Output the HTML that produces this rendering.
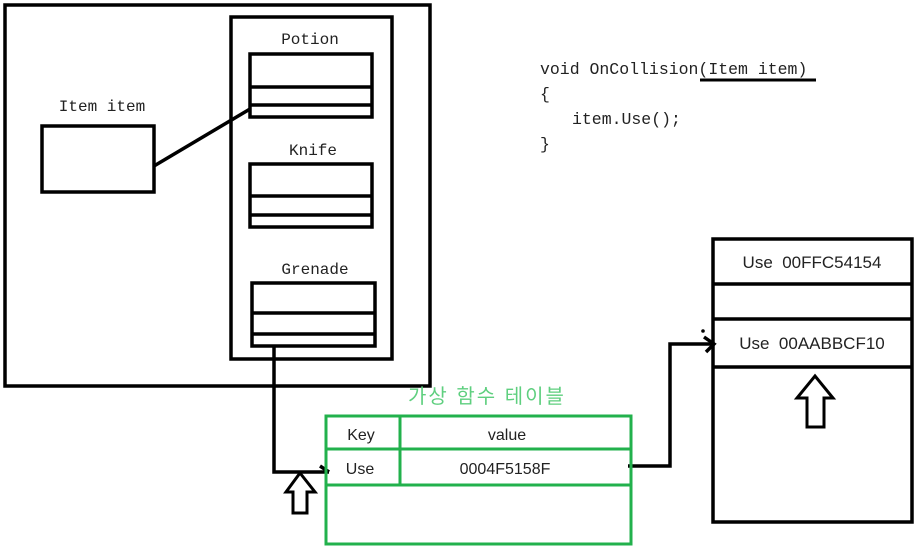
<!DOCTYPE html>
<html><head><meta charset="utf-8"><style>
html,body{margin:0;padding:0;background:#fff;}
svg{display:block;}
text{font-family:"Liberation Sans","Noto Sans CJK KR",sans-serif;fill:#222;}
.m{font-family:"Liberation Mono","Noto Sans CJK KR",monospace;}
</style></head><body>
<svg width="924" height="551" viewBox="0 0 924 551" xmlns="http://www.w3.org/2000/svg">
<g fill="none" stroke="#000" stroke-width="3.5">
<rect x="5" y="5" width="425" height="381"/>
<rect x="231" y="17" width="161" height="342"/>
<rect x="250" y="54" width="122" height="63"/>
<line x1="250" y1="87" x2="372" y2="87"/><line x1="250" y1="105" x2="372" y2="105"/>
<rect x="250" y="164" width="122" height="63"/>
<line x1="250" y1="196" x2="372" y2="196"/><line x1="250" y1="215" x2="372" y2="215"/>
<rect x="252" y="283" width="123" height="63"/>
<line x1="252" y1="313" x2="375" y2="313"/><line x1="252" y1="334" x2="375" y2="334"/>
<rect x="42" y="126" width="112" height="66"/>
<line x1="154" y1="166" x2="250" y2="109"/>
<polyline points="274,346 274,472 329,472"/>
<polyline points="320,466 329,472"/>
<polyline points="628,466 670,466 670,344 714,344"/>
<polyline points="704,337 714,344 706,352"/>
<rect x="713" y="239" width="199" height="283"/>
<line x1="713" y1="284" x2="912" y2="284"/><line x1="713" y1="319" x2="912" y2="319"/><line x1="713" y1="367" x2="912" y2="367"/>
<line x1="700" y1="80" x2="816" y2="80" stroke-width="3"/>
</g>
<circle cx="703" cy="331" r="1.8" fill="#000"/>
<g fill="none" stroke="#000" stroke-width="3">
<polygon points="300,473 315,492 307,492 307,513 293,513 293,492 286,492"/>
<polygon points="815,376 833,398 824,398 824,427 807,427 807,398 797,398"/>
</g>
<g fill="none" stroke="#22b14c" stroke-width="3">
<rect x="326" y="416" width="305" height="128"/>
<line x1="326" y1="449" x2="631" y2="449"/><line x1="326" y1="485" x2="631" y2="485"/>
<line x1="400" y1="416" x2="400" y2="485"/>
</g>
<g font-size="16" text-anchor="middle">
<text x="310" y="44" class="m">Potion</text>
<text x="313" y="155" class="m">Knife</text>
<text x="315" y="274" class="m">Grenade</text>
<text x="102" y="111" class="m">Item item</text>
<text x="361" y="440">Key</text>
<text x="507" y="440">value</text>
<text x="360" y="474">Use</text>
<text x="505" y="474">0004F5158F</text>
<text x="812" y="268" font-size="17">Use&#160;&#160;00FFC54154</text>
<text x="812" y="349" font-size="17">Use&#160;&#160;00AABBCF10</text>
<text x="487" y="403" style="fill:#5fcf7f;letter-spacing:2px" font-size="20">가상 함수 테이블</text>
</g>
<g font-size="16.5" class="m">
<text x="540" y="74" class="m">void OnCollision(Item item)</text>
<text x="540" y="99" class="m">{</text>
<text x="572" y="124" class="m">item.Use();</text>
<text x="540" y="149" class="m">}</text>
</g>
</svg>
</body></html>
